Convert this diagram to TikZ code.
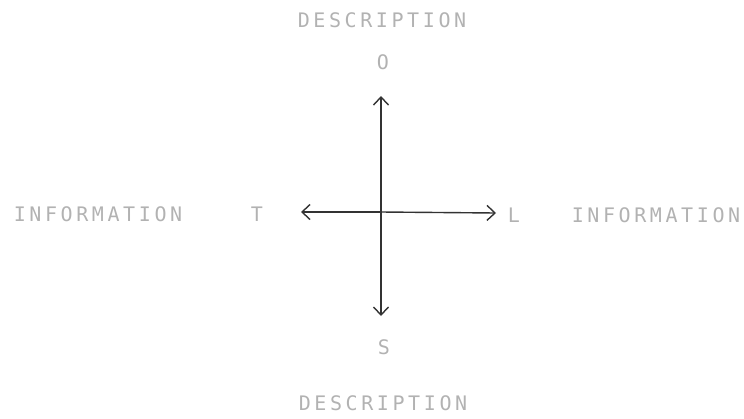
\documentclass[tikz,border=0pt]{standalone}
\usepackage{fontspec}
\newfontfamily\plotfont[LetterSpace=18]{DejaVu Sans Mono}
\usetikzlibrary{arrows.meta}
\tikzset{
  lbl/.style={font=\plotfont\fontsize{20}{20}\selectfont, text=gray!60, inner sep=0pt},
  axis/.style={draw=gray!40!black, line width=1.4pt, -{Straight Barb[length=8pt,width=15pt]}}
}
\begin{document}
\begin{tikzpicture}[x=1pt,y=-1pt]
    \useasboundingbox (0,0) rectangle (744,418);
    % labels
    \node[lbl] (dtop) at (382,20) {DESCRIPTION};
    \node[lbl] (dbot) at (383,403) {DESCRIPTION};
    \node[lbl] (ileft) at (98,214) {INFORMATION};
    \node[lbl] (iright) at (656,215) {INFORMATION};
    \node[lbl] (o) at (383,62) {O};
    \node[lbl] (s) at (384,347) {S};
    \node[lbl] (t) at (257,214) {T};
    \node[lbl] (l) at (514,215) {L};
    % axes
    \coordinate (c) at (381,212);
    \coordinate (up) at (381,96);
    \coordinate (down) at (381,316);
    \coordinate (left) at (301,212);
    \coordinate (right) at (496,213);
    \draw[axis] (c) -- (up);
    \draw[axis] (c) -- (down);
    \draw[axis] (c) -- (left);
    \draw[axis] (c) -- (right);
\end{tikzpicture}
\end{document}
